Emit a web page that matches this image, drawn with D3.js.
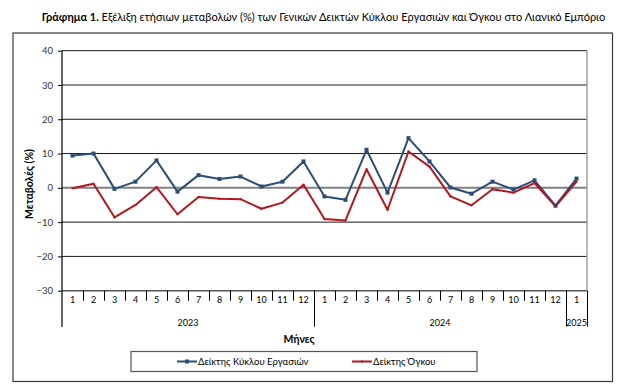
<!DOCTYPE html>
<html>
<head>
<meta charset="utf-8">
<script src="https://cdn.jsdelivr.net/npm/d3@7"></script>
<style>
  html, body { margin: 0; padding: 0; background: #fff; }
  svg { display: block; font-family: Lato, "Open Sans", sans-serif; }
</style>
</head>
<body>
<svg id="chart" width="632" height="392"></svg>
<script>
const months = ["1","2","3","4","5","6","7","8","9","10","11","12","1","2","3","4","5","6","7","8","9","10","11","12","1"];
const years = ["2023","2024","2025"];
const yearLengths = [12, 12, 1];
const turnover = [9.4,10.0,-0.3,1.8,8.0,-1.1,3.7,2.6,3.3,0.4,1.8,7.7,-2.5,-3.5,11.1,-1.4,14.5,7.7,0.1,-1.7,1.8,-0.5,2.2,-5.2,2.7];
const volume = [-0.1,1.2,-8.6,-5.0,0.2,-7.7,-2.7,-3.2,-3.3,-6.1,-4.3,0.9,-9.1,-9.5,5.4,-6.4,10.6,6.2,-2.5,-5.1,-0.4,-1.4,1.4,-5.4,1.8];
const yTicks = [-30,-20,-10,0,10,20,30,40];
const seriesNames = ["Δείκτης Κύκλου Εργασιών", "Δείκτης Όγκου"];
const colors = ["#2c4d75", "#b5161e"];

const svg = d3.select("#chart");
const L = 62, R = 587, T = 50.7, B = 290.7;

// frame
svg.append("rect").attr("x", 13).attr("y", 33).attr("width", 599.5).attr("height", 348.5)
  .attr("fill", "none").attr("stroke", "#3a3a3a").attr("stroke-width", 1.2);

// title
const title = svg.append("text").attr("x", 323.5).attr("y", 21).attr("text-anchor", "middle")
  .attr("font-size", 11).attr("fill", "#000");
title.append("tspan").attr("font-weight", "bold").text("Γράφημα 1.");
title.append("tspan").text(" Εξέλιξη ετήσιων μεταβολών (%) των Γενικών Δεικτών Κύκλου Εργασιών και Όγκου στο Λιανικό Εμπόριο");

const idx = d3.range(months.length);
const x = d3.scaleBand().domain(idx).range([L, R]).padding(0);
const xb = d3.scaleLinear().domain([0, months.length]).range([L, R]);
const y = d3.scaleLinear().domain([-30, 40]).range([B, T]);

// gridlines
svg.append("g").selectAll("line").data(yTicks.filter(v => v !== 0 && v !== -30)).join("line")
  .attr("x1", L).attr("x2", R).attr("y1", d => y(d)).attr("y2", d => y(d))
  .attr("stroke", "#1a1a1a").attr("stroke-width", 1);
svg.append("line").attr("x1", L).attr("x2", R).attr("y1", y(0)).attr("y2", y(0))
  .attr("stroke", "#808080").attr("stroke-width", 2);
svg.append("line").attr("x1", L).attr("x2", R).attr("y1", y(-30)).attr("y2", y(-30))
  .attr("stroke", "#555").attr("stroke-width", 1.5);
svg.append("line").attr("x1", R).attr("x2", R).attr("y1", T).attr("y2", B)
  .attr("stroke", "#a0a0a0").attr("stroke-width", 1.5);

// y axis
const yAxis = svg.append("g").attr("transform", `translate(${L},0)`)
  .call(d3.axisLeft(y).tickValues(yTicks).tickSize(4).tickPadding(5).tickFormat(d3.format("d")));
yAxis.select(".domain").remove();
yAxis.selectAll("text").attr("font-size", 9.5).attr("fill", "#333").attr("font-family", "Lato, sans-serif");
yAxis.selectAll("line").attr("stroke", "#000");
svg.append("line").attr("x1", L).attr("x2", L).attr("y1", T).attr("y2", 327).attr("stroke", "#000").attr("stroke-width", 1.2);

// month labels
const xAxis = svg.append("g").attr("transform", `translate(0,${B})`)
  .call(d3.axisBottom(x).tickSize(0).tickPadding(6).tickFormat(i => months[i]));
xAxis.select(".domain").remove();
xAxis.selectAll("text").attr("font-size", 9).attr("fill", "#000").attr("font-family", "Lato, sans-serif");

// month separators
const sep = svg.append("g").attr("transform", `translate(0,${B})`)
  .call(d3.axisBottom(xb).tickValues(d3.range(1, months.length)).tickSize(10).tickFormat(""));
sep.select(".domain").remove();
sep.selectAll("line").attr("stroke", "#000");

// year separators and labels
const bounds = [0];
yearLengths.forEach((n, i) => bounds.push(bounds[i] + n));
const ysep = svg.append("g").attr("transform", `translate(0,${B})`)
  .call(d3.axisBottom(xb).tickValues(bounds.slice(1)).tickSize(36).tickFormat(""));
ysep.select(".domain").remove();
ysep.selectAll("line").attr("stroke", "#000");
svg.append("g").selectAll("text").data(years).join("text")
  .attr("x", (d, i) => xb((bounds[i] + bounds[i + 1]) / 2))
  .attr("y", 326).attr("text-anchor", "middle").attr("font-size", 9).text(d => d);

// axis titles
svg.append("text").attr("transform", "translate(33,184) rotate(-90)").attr("text-anchor", "middle")
  .attr("font-size", 10.5).attr("font-weight", "bold").text("Μεταβολές (%)");
svg.append("text").attr("x", 299).attr("y", 343).attr("text-anchor", "middle")
  .attr("font-size", 10.5).attr("font-weight", "bold").text("Μήνες");

// lines
const line = d3.line().x((d, i) => x(i) + x.bandwidth() / 2).y(d => y(d));
[turnover, volume].forEach((s, k) => {
  svg.append("path").datum(s).attr("d", line).attr("fill", "none")
    .attr("stroke", colors[k]).attr("stroke-width", 2).attr("stroke-linejoin", "round");
});
svg.append("g").selectAll("rect").data(turnover).join("rect")
  .attr("x", (d, i) => x(i) + x.bandwidth() / 2 - 2).attr("y", d => y(d) - 2)
  .attr("width", 4).attr("height", 4).attr("fill", colors[0]);
svg.append("g").selectAll("rect").data(volume).join("rect")
  .attr("x", (d, i) => x(i) + x.bandwidth() / 2 - 1).attr("y", d => y(d) - 1)
  .attr("width", 2).attr("height", 2).attr("fill", colors[1]);

// legend
svg.append("rect").attr("x", 131).attr("y", 351.5).attr("width", 346).attr("height", 20)
  .attr("fill", "#fff").attr("stroke", "#555").attr("stroke-width", 1.2);
const legX = [177, 352];
seriesNames.forEach((n, k) => {
  const g = svg.append("g");
  g.append("line").attr("x1", legX[k]).attr("x2", legX[k] + 20).attr("y1", 361.5).attr("y2", 361.5)
    .attr("stroke", colors[k]).attr("stroke-width", 2);
  if (k === 0) g.append("rect").attr("x", legX[k] + 8).attr("y", 359.5).attr("width", 4).attr("height", 4).attr("fill", colors[k]);
  else g.append("rect").attr("x", legX[k] + 9).attr("y", 360.5).attr("width", 2).attr("height", 2).attr("fill", colors[k]);
  g.append("text").attr("x", legX[k] + 21).attr("y", 364.8).attr("font-size", 9.5).text(n);
});
</script>
</body>
</html>
